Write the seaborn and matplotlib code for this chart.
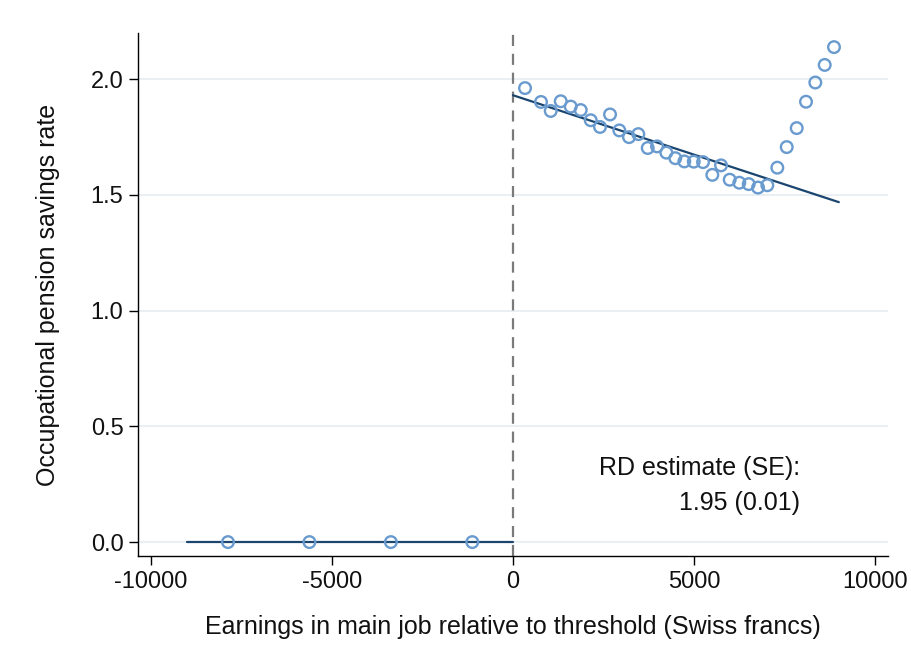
import matplotlib
matplotlib.use("Agg")
import matplotlib.pyplot as plt
import seaborn as sns
import pandas as pd

# Binned means below the threshold
left_x = [-7875, -5625, -3375, -1125]
left_y = [0.0, 0.0, 0.0, 0.0]

# Binned means above the threshold
right_x = [331, 773, 1041, 1318, 1594, 1870, 2146, 2403, 2680, 2937, 3204, 3461,
           3721, 3978, 4235, 4483, 4732, 4992, 5249, 5506, 5746, 5986, 6251, 6511,
           6768, 7025, 7301, 7561, 7837, 8094, 8351, 8610, 8867]
right_y = [1.962, 1.902, 1.863, 1.905, 1.882, 1.867, 1.823, 1.794, 1.848, 1.779,
           1.750, 1.763, 1.703, 1.710, 1.683, 1.659, 1.645, 1.644, 1.642, 1.587,
           1.628, 1.566, 1.553, 1.547, 1.532, 1.542, 1.618, 1.707, 1.789, 1.903,
           1.986, 2.062, 2.139]

# Linear fits on each side of the threshold
fit_left_x = [-9000, 0]
fit_left_y = [0.0, 0.0]
fit_right_x = [0, 9000]
fit_right_y = [1.931, 1.469]

rd_label = "RD estimate (SE):"
rd_value = "1.95 (0.01)"

xticks = [-10000, -5000, 0, 5000, 10000]
yticks = [0.0, 0.5, 1.0, 1.5, 2.0]

sns.set_theme(style="white")
plt.rcParams["font.family"] = ["Liberation Sans", "DejaVu Sans"]

marker_color = "#6a9bcf"
line_color = "#1a456f"
text_color = "#111111"

fig = plt.figure(figsize=(9.11, 6.64), dpi=100)
ax = fig.add_axes([0.1515, 0.1627, 0.8233, 0.7876])

for y in yticks:
    ax.axhline(y, color="#e8eef3", lw=1.3, zorder=0)

ax.axvline(0, color="#7a7a7a", lw=1.6, ls=(0, (5, 3.5)), zorder=1)

pts = pd.DataFrame({"x": left_x + right_x, "y": left_y + right_y})
fits_l = pd.DataFrame({"x": fit_left_x, "y": fit_left_y})
fits_r = pd.DataFrame({"x": fit_right_x, "y": fit_right_y})

sns.lineplot(data=fits_l, x="x", y="y", color=line_color, lw=1.6, ax=ax, zorder=2)
sns.lineplot(data=fits_r, x="x", y="y", color=line_color, lw=1.6, ax=ax, zorder=2)
sns.scatterplot(data=pts, x="x", y="y", s=70, facecolor="none",
                edgecolor=marker_color, linewidth=1.7, ax=ax, zorder=3)

ax.text(7930, 0.32, rd_label, ha="right", va="center", fontsize=18, color=text_color)
ax.text(7930, 0.169, rd_value, ha="right", va="center", fontsize=18, color=text_color)

ax.set_xlim(-10360, 10360)
ax.set_ylim(-0.06, 2.2)
ax.set_xticks(xticks)
ax.set_xticklabels([f"{t:d}" for t in xticks])
ax.set_yticks(yticks)
ax.set_yticklabels([f"{t:.1f}" for t in yticks])

ax.set_xlabel("Earnings in main job relative to threshold (Swiss francs)",
              fontsize=18, labelpad=16, color=text_color)
ax.set_ylabel("Occupational pension savings rate", fontsize=18, labelpad=22,
              color=text_color)

for side in ["top", "right"]:
    ax.spines[side].set_visible(False)
for side in ["left", "bottom"]:
    ax.spines[side].set_color("#000000")
    ax.spines[side].set_linewidth(1.0)

ax.tick_params(axis="both", direction="out", length=6.5, width=1.0, color="#000000",
               labelsize=17, labelcolor=text_color, bottom=True, left=True, pad=4)

fig.savefig("out.png", dpi=100, facecolor="white")
